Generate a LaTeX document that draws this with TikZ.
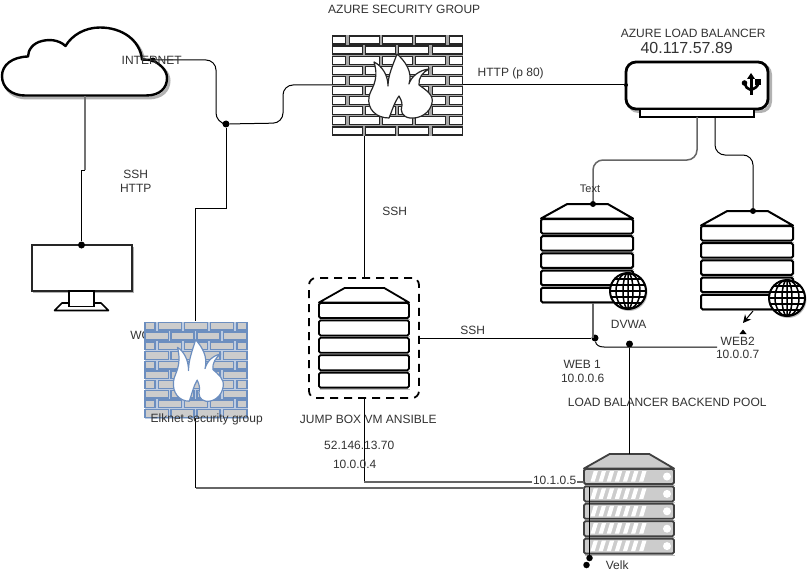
\documentclass[tikz,border=0pt]{standalone}
\usepackage{fontspec}
\setmainfont{Liberation Sans}
\usetikzlibrary{arrows.meta}
\definecolor{txt}{HTML}{333333}
\definecolor{wallblue}{HTML}{6C8EBF}
\tikzset{
  lbl/.style={text=txt,font=\fontsize{12}{12}\selectfont,inner sep=0pt,xshift=0.7pt},
  lblsm/.style={text=txt,font=\fontsize{11}{11}\selectfont,inner sep=0pt},
  wire/.style={draw=black,line width=1pt,rounded corners=10pt},
  greywire/.style={draw=black!60,line width=1.5pt,rounded corners=10pt},
  jdot/.style={circle,fill=black,inner sep=0pt,minimum size=7pt},
  smalldot/.style={circle,fill=black,inner sep=0pt,minimum size=5pt},
  anchorbox/.style={inner sep=0pt,outer sep=0pt,draw=none},
}
% x, y, w, h, brick fill, brick line, gap fill, line width
\newcommand{\brickwall}[8]{%
\begin{scope}[shift={(#1,#2)},xscale=#3/131,yscale=#4/101]
  \fill[#7] (0,0) rectangle (131,101);
  \foreach \r in {0,2,4,6,8}{
    \foreach \a/\b in {0/14,17/48,50/81,83/114,117/131}
      \draw[fill=#5,draw=#6,line width=#8] (\a+0.8,\r*10.1+1) rectangle (\b-0.8,\r*10.1+9);
    \foreach \a/\b in {0/31,33/64,66/97,100/131}
      \draw[fill=#5,draw=#6,line width=#8] (\a+0.8,\r*10.1+11.1) rectangle (\b-0.8,\r*10.1+19.1);
  }
  \draw[fill=white,draw=#6,line width=1.2pt,line join=round]
    (57,83) .. controls (44,83) and (35,74) .. (37,62)
    .. controls (38,54) and (48,47) .. (42,27)
    .. controls (50,31) and (56,40) .. (56,51)
    .. controls (56,40) and (61,30) .. (65,19)
    .. controls (73,26) and (81,37) .. (77,49)
    .. controls (79,42) and (87,35) .. (97,34)
    .. controls (91,37) and (86,43) .. (87,50)
    .. controls (94,55) and (102,60) .. (100,68)
    .. controls (98,78) and (88,84) .. (78,83)
    .. controls (70,82) and (68,76) .. (70,70)
    .. controls (70,66) and (68,63) .. (67,61)
    .. controls (62,68) and (60,76) .. (57,83) -- cycle;
\end{scope}}
% x, y, width, row step, row height, fill, line, line width
\newcommand{\rack}[8]{%
\begin{scope}[shift={(#1,#2)}]
  \draw[fill=#6,draw=#7,line width=#8,line join=round]
    (0,14.5) -- (#3*0.285,0) -- (#3*0.725,0) -- (#3,14.5) -- cycle;
  \foreach \r in {0,1,2,3,4}{
    \draw[draw=black!25,line width=1pt] (1,15+\r*#4+#5+1.5) -- (#3+1,15+\r*#4+#5+1.5);
    \draw[fill=#6,draw=#7,line width=#8,rounded corners=1.5pt]
      (0,15+\r*#4) rectangle (#3,15+\r*#4+#5);
  }
\end{scope}}
\newcommand{\globe}[2]{%
\begin{scope}[shift={(#1,#2)}]
  \fill[black!25] (1,1.5) circle (18.5);
  \draw[fill=white,line width=2pt] (0,0) circle (18);
  \begin{scope}
    \clip (0,0) circle (18);
    \draw[line width=1.5pt] (0,0) ellipse (5 and 18) (0,0) ellipse (12 and 18) (0,-18) -- (0,18);
    \draw[line width=1.5pt] (-18,0) -- (18,0) (-18,-6) -- (18,-6) (-18,6) -- (18,6)
      (-18,-12) -- (18,-12) (-18,12) -- (18,12);
  \end{scope}
\end{scope}}
\begin{document}
\begin{tikzpicture}[x=1pt,y=-1pt]
\useasboundingbox (0,0) rectangle (808,575);
\fill[white] (0,0) rectangle (808,575);

% ---- hidden text beneath the second wall
\node[lbl,anchor=west] (wslabel) at (129.5,335) {WORKSTATION};

% ---- cloud
\def\cloudpath{(25,95.5) -- (146,95.5) .. controls (160,95.5) and (167,88) .. (167,78)
  .. controls (167,70) and (160,64) .. (152,60) -- (142,59.5)
  .. controls (140,40) and (122,27.5) .. (100,27.5)
  .. controls (85,27.5) and (72,35) .. (65.5,46)
  .. controls (58,39) and (48,39.5) .. (42,41)
  .. controls (33,43) and (28,50) .. (28,56.5)
  .. controls (12,57) and (2,65) .. (2,76)
  .. controls (2,88) and (12,95.5) .. (25,95.5) -- cycle}
\draw[black!30,line width=3pt,shift={(2,2.5)}] \cloudpath;
\draw[fill=white,draw=black,line width=2.4pt,line join=round] \cloudpath;
\coordinate (cloudbottom) at (85,96);
\node[smalldot] (cloudport) at (153,60) {};

% ---- monitor
\fill[black!30] (33,247) rectangle (134,293);
\node[anchorbox,draw=black!85,line width=2pt,fill=white,minimum width=100pt,minimum height=46pt] (monitor) at (81.5,268) {};
\draw[black,line width=1.6pt,line join=round,fill=white] (54.5,310.5) -- (62,303) -- (101,303) -- (108.5,310.5) -- cycle;
\draw[black,line width=1.8pt,fill=white] (69,291) rectangle (94,306.5);
\node[jdot] (monport) at (81.5,245) {};
\coordinate (cloudjog) at (85,170);

\draw[draw=black!55,line width=1.4pt] (cloudbottom) -- (cloudjog);
\draw[draw=black,line width=1pt] (cloudjog) -- (81.5,170) -- (monport);

% ---- firewall one
\brickwall{332}{35}{131}{101}{white}{black!85}{black!35}{1.3pt}
\coordinate (fw1west) at (332,85);
\coordinate (fw1east) at (463,85);
\coordinate (fw1south) at (364,136);

% ---- firewall two
\brickwall{144.5}{321.5}{103}{97}{black!20}{wallblue}{wallblue!45}{1.4pt}
\coordinate (fw2north) at (195.5,321);
\coordinate (fw2south) at (195.5,418);

% ---- load balancer
\draw[black!30,line width=3pt,rounded corners=10pt] (628.5,64.5) rectangle (770.5,111.5);
\node[anchorbox,draw=black,line width=2.8pt,fill=white,rounded corners=10pt,minimum width=142pt,minimum height=47pt] (lb) at (697,85.5) {};
\draw[black,line width=2.2pt,fill=white] (640,109) rectangle (754,117);
\coordinate (lbone) at (697,117);
\coordinate (lbtwo) at (715,117);
\node[circle,fill=black,inner sep=0pt,minimum size=4pt] (lbwest) at (626,85) {};
% USB icon
\begin{scope}[shift={(751,84)}]
  \fill (0,-11) -- (4,-5) -- (-4,-5) -- cycle;
  \draw[line width=3pt] (0,-6) -- (0,11.5);
  \draw[line width=2.6pt] (0,6) .. controls (-4,4) and (-6,3) .. (-6,0);
  \draw[line width=2.6pt] (0,6) .. controls (4,4) and (7,3) .. (7,-1);
  \fill (-6.5,-1) circle (2.8);
  \fill (4,-4.5) -- (9.5,-4.5) -- (9.5,1) -- (4,1) -- cycle;
\end{scope}

% ---- racks
\rack{541}{204}{92}{17.2}{14.5}{white}{black}{2pt}
\globe{628}{291}
\rack{701}{211}{92}{17.2}{14.5}{white}{black}{2pt}
\globe{787}{298}
\rack{319}{288}{90}{17.4}{15}{white}{black}{1.8pt}
\node[anchorbox,draw=black,line width=1.8pt,dash pattern=on 8pt off 6pt,rounded corners=7pt,minimum width=110pt,minimum height=120pt] (jump) at (364,338) {};
\rack{584}{454}{90}{17.4}{15}{black!20}{black!75}{1.8pt}
\foreach \r in {0,1,2,3,4}{
  \foreach \s in {0,...,6}
    \fill[white] (590.5+\s*8.1,15+454+\r*17.4+12.5) -- ++(3.2,-10.5) -- ++(4.2,0) -- ++(-3.2,10.5) -- cycle;
  \fill[white] (667,15+454+\r*17.4+7.5) circle (4);
}
\coordinate (velktop) at (629.5,454);
\coordinate (velkwest) at (584,482);
\coordinate (velkwestb) at (584,488);
\coordinate (dvwabottom) at (593,303);
\coordinate (webtwoout) at (753,311);
\coordinate (webtwoend) at (743,323);
\coordinate (webtwoin) at (717,347);
\coordinate (branch) at (226,208);
\node[jdot] (j1) at (226,124) {};
\node[jdot] (j2) at (595,338) {};
\node[jdot] (j3) at (629.5,344) {};
\node[circle,fill=black,inner sep=0pt,minimum size=6pt] (d1) at (593,204) {};
\node[circle,fill=black,inner sep=0pt,minimum size=6pt] (d2) at (753,211) {};
\node[smalldot,minimum size=6.5pt] (v1) at (589.5,558) {};
\node[smalldot,minimum size=6.5pt] (v2) at (586.5,565) {};

% ---- connectors
\draw[wire] (cloudport) -- (216,60) -- (216,123) -- (j1);
\draw[wire] (j1) -- (283,123) -- (283,85) -- (fw1west);
\draw[draw=black,line width=1pt] (j1) -- (branch) -- (195.5,208) -- (fw2north);
\draw[draw=black,line width=1pt] (fw1east) -- (lbwest);
\draw[draw=black,line width=1pt] (fw1south) -- (jump.north -| fw1south);
\draw[greywire] (lbone) -- (697,160) -- (593,160) -- (d1);
\draw[wire] (lbtwo) -- (715,155) -- (753,155) -- (d2);
\draw[draw=black!60,line width=1.5pt] (dvwabottom) -- (593,338);
\draw[draw=black,line width=1pt] (jump.east |- j2) -- (j2);
\draw[draw=black,line width=1pt] (j2) .. controls (596,345) and (599,347) .. (604,347) -- (webtwoin);
\draw[draw=black,line width=1pt] (j3) -- (velktop);
\draw[draw=black,line width=1pt,-{Stealth[length=8pt,width=8pt]}] (webtwoout) -- (webtwoend);
\fill[black] (743,329.5) -- (746.5,334) -- (739.5,334) -- cycle;
\draw[draw=black,line width=1pt] (364,398) -- (364,481);
\draw[draw=black!60,line width=1.2pt] (364,482) -- (velkwest);
\draw[draw=black,line width=1pt] (fw2south) -- (195.5,488);
\draw[draw=black!60,line width=1.5pt] (195.5,488) -- (velkwestb);
\draw[draw=black,line width=1pt] (589.5,487) -- (v1);

% ---- labels
\node[lbl] (linternet) at (151,60) {INTERNET};
\node[lbl] (lssh) at (135,174) {SSH};
\node[lbl] (lhttp) at (135,188) {HTTP};
\node[lbl] (lazsg) at (403.5,9) {AZURE SECURITY GROUP};
\node[lbl] (lhttp80) at (510,73) {HTTP (p 80)};
\node[lbl] (lazlb) at (692.5,33) {AZURE LOAD BALANCER};
\node[lbl,font=\fontsize{16}{16}\selectfont] (lip) at (686,47.5) {40.117.57.89};
\node[lblsm] (ltext) at (590,189) {Text};
\node[lbl] (lssh2) at (394,211.5) {SSH};
\node[lbl] (ldvwa) at (628,324) {DVWA};
\node[lbl] (lweb1) at (581.5,364) {WEB 1};
\node[lbl] (lweb1ip) at (582,378) {10.0.0.6};
\node[lbl] (lweb2) at (737,341) {WEB2};
\node[lbl] (lweb2ip) at (737,354) {10.0.0.7};
\node[lbl] (lpool) at (666.5,402) {LOAD BALANCER BACKEND POOL};
\node[lbl] (lssh3) at (472,330) {SSH};
\node[lbl] (ljump) at (367.5,419) {JUMP BOX VM ANSIBLE};
\node[lbl] (lpub) at (358.5,445) {52.146.13.70};
\node[lbl] (lpriv) at (354,464.5) {10.0.0.4};
\node[lbl] (lelk) at (206,419) {Elknet security group};
\node[lbl] (lvelk) at (616.5,565) {Velk};
\node[lbl,fill=white,inner xsep=1pt] (lvip) at (554,480) {10.1.0.5};
\end{tikzpicture}
\end{document}
